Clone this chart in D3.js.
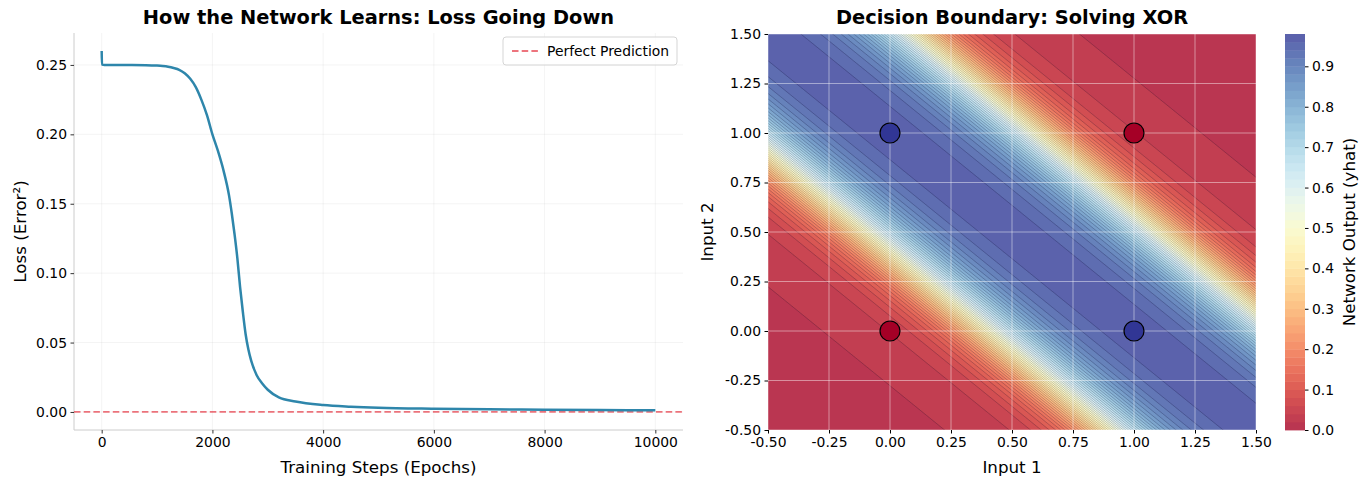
<!DOCTYPE html>
<html><head><meta charset="utf-8">
<script src="https://cdn.jsdelivr.net/npm/d3@7"></script>
<style>body{margin:0;background:#fff} svg{display:block} text{font-family:"DejaVu Sans",sans-serif;fill:#000}</style>
</head><body><svg id="c" width="1370" height="487"></svg>
<script>
// ---------- data ----------
const epochs = [0, 5, 50, 200, 500, 800, 1000, 1100, 1200, 1300, 1400, 1500, 1600, 1700, 1800, 1900, 2000, 2100, 2200, 2300, 2350, 2400, 2450, 2500, 2550, 2600, 2650, 2700, 2800, 2900, 3000, 3200, 3500, 4000, 4500, 5000, 6000, 7000, 8000, 9000, 10000];
const loss = [0.2600, 0.2502, 0.2500, 0.2500, 0.2499, 0.2498, 0.2495, 0.2492, 0.2487, 0.2478, 0.2465, 0.2440, 0.2400, 0.2340, 0.2250, 0.2140, 0.2000, 0.1880, 0.1740, 0.1560, 0.1430, 0.1280, 0.1110, 0.0900, 0.0720, 0.0560, 0.0450, 0.0370, 0.0265, 0.0205, 0.0160, 0.0105, 0.0075, 0.0050, 0.0038, 0.0030, 0.0023, 0.0019, 0.0016, 0.0014, 0.0012];
const lossXTicks = [0, 2000, 4000, 6000, 8000, 10000];
const lossYTicks = [0, 0.05, 0.10, 0.15, 0.20, 0.25];

// XOR training points
const xorInput1 = [0, 0, 1, 1];
const xorInput2 = [0, 1, 0, 1];
const xorTarget = [0, 1, 1, 0];

// network output read along the diagonal s = input1 + input2
const profileS = [-1.0,-0.9,-0.8,-0.7,-0.6,-0.5,-0.4,-0.3,-0.2,-0.1,0.0,0.1,0.2,0.3,0.4,0.5,0.6,0.7,0.8,0.9,1.0,1.1,1.2,1.3,1.4,1.5,1.6,1.7,1.8,1.9,2.0,2.1,2.2,2.3,2.4,2.5,2.6,2.7,2.8,2.9,3.0];
const profileYhat = [0.009,0.010,0.011,0.012,0.013,0.014,0.016,0.019,0.024,0.031,0.042,0.070,0.140,0.280,0.470,0.660,0.810,0.900,0.945,0.965,0.972,0.965,0.945,0.900,0.810,0.660,0.470,0.280,0.140,0.070,0.042,0.031,0.024,0.019,0.016,0.014,0.013,0.012,0.011,0.010,0.009];

const inputTicks = [-0.5, -0.25, 0, 0.25, 0.5, 0.75, 1.0, 1.25, 1.5];
const cbTicks = [0, 0.1, 0.2, 0.3, 0.4, 0.5, 0.6, 0.7, 0.8, 0.9];
const levels = d3.range(50).map(i => +(i * 0.02).toFixed(2));

// ---------- setup ----------
const svg = d3.select("#c");
const L = {x0: 74, x1: 683, y0: 33, y1: 430};
const R = {x0: 768, x1: 1256, y0: 34, y1: 430};
const CB = {x0: 1285, x1: 1305, y0: 34, y1: 430};
const FS = 13.9, FL = 16.7, FT = 19.4;

// ================= LEFT: loss =================
const xL = d3.scaleLinear().domain([-500, 10500]).range([L.x0, L.x1]);
const yL = d3.scaleLinear().domain([-0.013, 0.273]).range([L.y1, L.y0]);
const gL = svg.append("g");

gL.append("g").selectAll("line").data(lossXTicks).join("line")
  .attr("x1", d => xL(d)).attr("x2", d => xL(d)).attr("y1", L.y0).attr("y2", L.y1)
  .attr("stroke", "#b0b0b0").attr("stroke-opacity", 0.18).attr("stroke-width", 0.8);
gL.append("g").selectAll("line").data(lossYTicks).join("line")
  .attr("y1", d => yL(d)).attr("y2", d => yL(d)).attr("x1", L.x0).attr("x2", L.x1)
  .attr("stroke", "#b0b0b0").attr("stroke-opacity", 0.18).attr("stroke-width", 0.8);

const axBL = gL.append("g").attr("transform", `translate(0,${L.y1})`)
  .call(d3.axisBottom(xL).tickValues(lossXTicks).tickFormat(d3.format("d")).tickSize(3.5).tickPadding(3.5));
const axLL = gL.append("g").attr("transform", `translate(${L.x0},0)`)
  .call(d3.axisLeft(yL).tickValues(lossYTicks).tickFormat(d3.format(".2f")).tickSize(3.5).tickPadding(3.5));
[axBL, axLL].forEach(a => {
  a.select(".domain").attr("stroke", "#cccccc").attr("stroke-width", 1);
  a.selectAll(".tick line").attr("stroke", "#333");
  a.selectAll(".tick text").attr("font-size", FS).attr("font-family", "DejaVu Sans").attr("fill", "#111");
});
axBL.select(".domain").attr("d", `M${L.x0},0H${L.x1}`);
axLL.select(".domain").attr("d", `M0,${L.y1}V${L.y0}`);

gL.append("line").attr("x1", L.x0).attr("x2", L.x1).attr("y1", yL(0)).attr("y2", yL(0))
  .attr("stroke", "#e63946").attr("stroke-opacity", 0.7).attr("stroke-width", 1.8).attr("stroke-dasharray", "6.5,3.2");

gL.append("path").datum(d3.zip(epochs, loss))
  .attr("d", d3.line().x(d => xL(d[0])).y(d => yL(d[1])).curve(d3.curveMonotoneX))
  .attr("fill", "none").attr("stroke", "#2E86AB").attr("stroke-width", 2.5);

// legend
gL.append("rect").attr("x", 503).attr("y", 37).attr("width", 174).attr("height", 28).attr("rx", 3)
  .attr("fill", "#fff").attr("fill-opacity", 0.8).attr("stroke", "#d5d5d5");
gL.append("line").attr("x1", 512).attr("x2", 540).attr("y1", 51).attr("y2", 51)
  .attr("stroke", "#e63946").attr("stroke-opacity", 0.7).attr("stroke-width", 1.8).attr("stroke-dasharray", "6.5,3.2");
gL.append("text").attr("x", 547).attr("y", 56).attr("font-size", FS).text("Perfect Prediction");

svg.append("text").attr("x", (L.x0 + L.x1) / 2).attr("y", 24).attr("text-anchor", "middle")
  .attr("font-size", FT).attr("font-weight", "bold").text("How the Network Learns: Loss Going Down");
svg.append("text").attr("x", (L.x0 + L.x1) / 2).attr("y", 473).attr("text-anchor", "middle")
  .attr("font-size", FL).text("Training Steps (Epochs)");
svg.append("text").attr("transform", `translate(26,${(L.y0 + L.y1) / 2}) rotate(-90)`).attr("text-anchor", "middle")
  .attr("font-size", FL).text("Loss (Error²)");

// ================= RIGHT: decision boundary =================
const xR = d3.scaleLinear().domain([-0.5, 1.5]).range([R.x0, R.x1]);
const yR = d3.scaleLinear().domain([-0.5, 1.5]).range([R.y1, R.y0]);
const color = v => d3.interpolateRdYlBu(v / levels[levels.length - 1]);

function monotone(xs, ys) {
  const n = xs.length, d = [], m = [];
  for (let i = 0; i < n - 1; i++) d.push((ys[i + 1] - ys[i]) / (xs[i + 1] - xs[i]));
  m[0] = d[0]; m[n - 1] = d[n - 2];
  for (let i = 1; i < n - 1; i++) m[i] = (d[i - 1] * d[i] <= 0) ? 0 : (d[i - 1] + d[i]) / 2;
  for (let i = 0; i < n - 1; i++) {
    if (d[i] === 0) { m[i] = 0; m[i + 1] = 0; continue; }
    const a = m[i] / d[i], b = m[i + 1] / d[i], h = a * a + b * b;
    if (h > 9) { const t = 3 / Math.sqrt(h); m[i] = t * a * d[i]; m[i + 1] = t * b * d[i]; }
  }
  return x => {
    x = Math.max(xs[0], Math.min(xs[n - 1], x));
    let i = d3.bisectRight(xs, x) - 1; if (i >= n - 1) i = n - 2; if (i < 0) i = 0;
    const h = xs[i + 1] - xs[i], t = (x - xs[i]) / h, t2 = t * t, t3 = t2 * t;
    return (2 * t3 - 3 * t2 + 1) * ys[i] + (t3 - 2 * t2 + t) * h * m[i] + (-2 * t3 + 3 * t2) * ys[i + 1] + (t3 - t2) * h * m[i + 1];
  };
}
const yhatAt = monotone(profileS, profileYhat);

const G0 = -0.52, G1 = 1.52, N = 260, step = (G1 - G0) / (N - 1);
const values = new Float64Array(N * N);
for (let j = 0; j < N; j++) for (let i = 0; i < N; i++) {
  const x = G0 + i * step, y = G1 - j * step;
  values[j * N + i] = yhatAt(x + y);
}
const proj = d3.geoTransform({point(gx, gy) {
  this.stream.point(xR(G0 + (gx - 0.5) * step), yR(G1 - (gy - 0.5) * step));
}});
const path = d3.geoPath(proj);
const contours = d3.contours().size([N, N]).thresholds(levels)(values);

svg.append("clipPath").attr("id", "clipR").append("rect")
  .attr("x", R.x0).attr("y", R.y0).attr("width", R.x1 - R.x0).attr("height", R.y1 - R.y0);
const gR = svg.append("g");
const fillG = gR.append("g").attr("clip-path", "url(#clipR)").attr("opacity", 0.8);
fillG.selectAll("path").data(contours.filter((c, i) => i < levels.length - 1)).join("path")
  .attr("d", path)
  .attr("fill", (c, i) => color((levels[i] + levels[i + 1]) / 2))
  .attr("stroke", (c, i) => color((levels[i] + levels[i + 1]) / 2)).attr("stroke-width", 0.3);
const lineG = gR.append("g").attr("clip-path", "url(#clipR)");
lineG.selectAll("path").data(contours.slice(1)).join("path")
  .attr("d", path).attr("fill", "none").attr("stroke", "#000022").attr("stroke-opacity", 0.32).attr("stroke-width", 0.7);

gR.append("g").selectAll("line").data(inputTicks).join("line")
  .attr("x1", d => xR(d)).attr("x2", d => xR(d)).attr("y1", R.y0).attr("y2", R.y1)
  .attr("stroke", "#fff").attr("stroke-opacity", 0.5).attr("stroke-width", 0.9);
gR.append("g").selectAll("line").data(inputTicks).join("line")
  .attr("y1", d => yR(d)).attr("y2", d => yR(d)).attr("x1", R.x0).attr("x2", R.x1)
  .attr("stroke", "#fff").attr("stroke-opacity", 0.5).attr("stroke-width", 0.9);

gR.append("g").selectAll("circle").data(d3.range(xorTarget.length)).join("circle")
  .attr("cx", i => xR(xorInput1[i])).attr("cy", i => yR(xorInput2[i])).attr("r", 10)
  .attr("fill", i => d3.interpolateRdYlBu(xorTarget[i])).attr("stroke", "#000").attr("stroke-width", 1.2);

const fmt2 = d => d3.format(".2f")(d).replace("−", "-");
const axBR = gR.append("g").attr("transform", `translate(0,${R.y1})`)
  .call(d3.axisBottom(xR).tickValues(inputTicks).tickFormat(fmt2).tickSize(3.5).tickPadding(3.5));
const axLR = gR.append("g").attr("transform", `translate(${R.x0},0)`)
  .call(d3.axisLeft(yR).tickValues(inputTicks).tickFormat(fmt2).tickSize(3.5).tickPadding(3.5));
[axBR, axLR].forEach(a => {
  a.select(".domain").remove();
  a.selectAll(".tick line").attr("stroke", "#000");
  a.selectAll(".tick text").attr("font-size", FS).attr("font-family", "DejaVu Sans").attr("fill", "#111");
});

svg.append("text").attr("x", (R.x0 + R.x1) / 2).attr("y", 24).attr("text-anchor", "middle")
  .attr("font-size", FT).attr("font-weight", "bold").text("Decision Boundary: Solving XOR");
svg.append("text").attr("x", (R.x0 + R.x1) / 2).attr("y", 473).attr("text-anchor", "middle")
  .attr("font-size", FL).text("Input 1");
svg.append("text").attr("transform", `translate(713,${(R.y0 + R.y1) / 2}) rotate(-90)`).attr("text-anchor", "middle")
  .attr("font-size", FL).text("Input 2");

// ================= colorbar =================
const yC = d3.scaleLinear().domain([levels[0], levels[levels.length - 1]]).range([CB.y1, CB.y0]);
const gC = svg.append("g");
gC.append("g").attr("opacity", 0.8).selectAll("rect").data(d3.range(levels.length - 1)).join("rect")
  .attr("x", CB.x0).attr("width", CB.x1 - CB.x0)
  .attr("y", i => yC(levels[i + 1])).attr("height", i => yC(levels[i]) - yC(levels[i + 1]) + 0.4)
  .attr("fill", i => color((levels[i] + levels[i + 1]) / 2));
const axC = gC.append("g").attr("transform", `translate(${CB.x1},0)`)
  .call(d3.axisRight(yC).tickValues(cbTicks).tickFormat(d3.format(".1f")).tickSize(3.5).tickPadding(3.5));
axC.select(".domain").remove();
axC.selectAll(".tick line").attr("stroke", "#000");
axC.selectAll(".tick text").attr("font-size", FS).attr("font-family", "DejaVu Sans").attr("fill", "#111");
svg.append("text").attr("transform", `translate(1355,${(CB.y0 + CB.y1) / 2}) rotate(-90)`).attr("text-anchor", "middle")
  .attr("font-size", FL).text("Network Output (yhat)");
</script></body></html>
